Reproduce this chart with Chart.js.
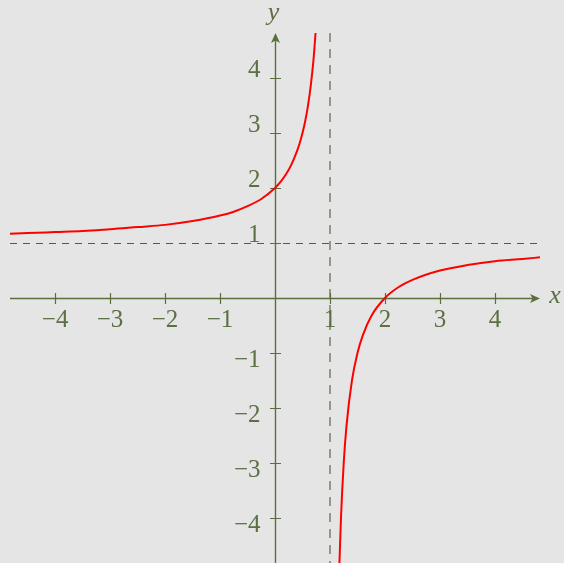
<!DOCTYPE html>
<html lang="en">
<head>
    <meta charset="UTF-8">
    <title>y = (x-2)/(x-1)</title>
    <script src="https://cdn.jsdelivr.net/npm/chart.js"></script>
    <style>
        body {
            margin: 0;
            background: #e5e5e5;
        }
        .chart-container {
            width: 564px;
            height: 563px;
        }
    </style>
</head>
<body>
    <div class="chart-container">
        <canvas id="graph"></canvas>
    </div>

    <script>
        // branche gauche (x < 1)
        const leftX = [-4.82, -4.5, -4, -3.5, -3, -2.5, -2, -1.5, -1, -0.75, -0.5, -0.25, 0, 0.1, 0.2, 0.3, 0.4, 0.45, 0.5, 0.55, 0.6, 0.65, 0.7, 0.74];
        const leftY = [1.17, 1.18, 1.2, 1.22, 1.25, 1.29, 1.33, 1.4, 1.5, 1.57, 1.67, 1.8, 2.0, 2.11, 2.25, 2.43, 2.67, 2.82, 3.0, 3.22, 3.5, 3.86, 4.33, 4.85];
        // branche droite (x > 1)
        const rightX = [1.17, 1.2, 1.25, 1.3, 1.4, 1.5, 1.6, 1.75, 2, 2.25, 2.5, 3, 3.5, 4, 4.5, 4.82];
        const rightY = [-4.9, -4.0, -3.0, -2.33, -1.5, -1.0, -0.67, -0.33, 0, 0.2, 0.33, 0.5, 0.6, 0.67, 0.71, 0.74];

        const xTicks = [-4, -3, -2, -1, 1, 2, 3, 4];
        const yTicks = [-4, -3, -2, -1, 1, 2, 3, 4];
        const xTickLabels = ['−4', '−3', '−2', '−1', '1', '2', '3', '4'];
        const yTickLabels = ['−4', '−3', '−2', '−1', '1', '2', '3', '4'];
        const asymptoteX = 1;
        const asymptoteY = 1;
        const axisMin = -4.82;
        const axisMax = 4.82;

        const axisColor = '#5a6f3c';
        const textColor = '#5b7043';
        const font = '25px "Liberation Serif", "Times New Roman", serif';
        const italicFont = 'italic 26px "Liberation Serif", "Times New Roman", serif';

        function toPoints(xs, ys) {
            return xs.map((x, i) => ({ x: x, y: ys[i] }));
        }

        function arrow(ctx, x, y, dir) {
            // dir: 'right' ou 'up'
            ctx.save();
            ctx.translate(x, y);
            if (dir === 'up') ctx.rotate(-Math.PI / 2);
            ctx.beginPath();
            ctx.moveTo(0, 0);
            ctx.lineTo(-10, -4.5);
            ctx.lineTo(-7.5, 0);
            ctx.lineTo(-10, 4.5);
            ctx.closePath();
            ctx.fillStyle = axisColor;
            ctx.fill();
            ctx.restore();
        }

        const axesPlugin = {
            id: 'axes',
            beforeDraw(chart) {
                const ctx = chart.ctx;
                ctx.save();
                ctx.fillStyle = '#e5e5e5';
                ctx.fillRect(0, 0, chart.width, chart.height);
                ctx.restore();
            },
            beforeDatasetsDraw(chart) {
                const ctx = chart.ctx;
                const xs = chart.scales.x;
                const ys = chart.scales.y;
                const area = chart.chartArea;
                const x0 = Math.round(xs.getPixelForValue(0)) + 0.5;
                const y0 = Math.round(ys.getPixelForValue(0)) + 0.5;

                ctx.save();

                // asymptotes
                ctx.setLineDash([7, 6]);
                ctx.lineWidth = 1;
                ctx.strokeStyle = '#4e6038';
                const ya = Math.round(ys.getPixelForValue(asymptoteY)) + 0.5;
                ctx.beginPath();
                ctx.moveTo(area.left, ya);
                ctx.lineTo(area.right, ya);
                ctx.stroke();

                ctx.strokeStyle = '#8f9b82';
                ctx.lineWidth = 2;
                ctx.setLineDash([9, 7]);
                const xa = Math.round(xs.getPixelForValue(asymptoteX));
                ctx.beginPath();
                ctx.moveTo(xa, area.top);
                ctx.lineTo(xa, area.bottom);
                ctx.stroke();
                ctx.setLineDash([]);

                // axes
                ctx.strokeStyle = axisColor;
                ctx.lineWidth = 1.4;
                ctx.beginPath();
                ctx.moveTo(area.left, y0);
                ctx.lineTo(area.right - 4, y0);
                ctx.moveTo(x0, area.bottom);
                ctx.lineTo(x0, area.top + 4);
                ctx.stroke();
                arrow(ctx, area.right, y0, 'right');
                arrow(ctx, x0, area.top, 'up');

                // graduations
                ctx.lineWidth = 1.2;
                ctx.beginPath();
                xTicks.forEach(v => {
                    const px = Math.round(xs.getPixelForValue(v)) + 0.5;
                    ctx.moveTo(px, y0 - 5.5);
                    ctx.lineTo(px, y0 + 5.5);
                });
                yTicks.forEach(v => {
                    const py = Math.round(ys.getPixelForValue(v)) + 0.5;
                    ctx.moveTo(x0 - 5.5, py);
                    ctx.lineTo(x0 + 5.5, py);
                });
                ctx.stroke();

                // étiquettes
                ctx.fillStyle = textColor;
                ctx.font = font;
                ctx.textAlign = 'center';
                ctx.textBaseline = 'middle';
                xTicks.forEach((v, i) => {
                    ctx.fillText(xTickLabels[i], xs.getPixelForValue(v), y0 + 22);
                });
                ctx.textAlign = 'right';
                yTicks.forEach((v, i) => {
                    const py = ys.getPixelForValue(v) + (v > 0 ? -7.5 : 7.5);
                    ctx.fillText(yTickLabels[i], x0 - 15, py);
                });

                ctx.font = italicFont;
                ctx.textAlign = 'center';
                ctx.fillText('x', area.right + 15, y0 - 2);
                ctx.fillText('y', x0 - 2, area.top - 20);

                ctx.restore();
            }
        };

        const lineStyle = {
            borderColor: '#ff0000',
            borderWidth: 2,
            pointRadius: 0,
            fill: false,
            cubicInterpolationMode: 'monotone'
        };

        new Chart(document.getElementById('graph'), {
            type: 'scatter',
            data: {
                datasets: [
                    Object.assign({ data: toPoints(leftX, leftY), showLine: true }, lineStyle),
                    Object.assign({ data: toPoints(rightX, rightY), showLine: true }, lineStyle)
                ]
            },
            options: {
                responsive: true,
                maintainAspectRatio: false,
                animation: false,
                layout: {
                    padding: { left: 10, right: 24, top: 33, bottom: 0 }
                },
                plugins: {
                    legend: { display: false },
                    tooltip: { enabled: false }
                },
                scales: {
                    x: { type: 'linear', min: axisMin, max: axisMax, display: false },
                    y: { type: 'linear', min: axisMin, max: axisMax, display: false }
                }
            },
            plugins: [axesPlugin]
        });
    </script>
</body>
</html>
